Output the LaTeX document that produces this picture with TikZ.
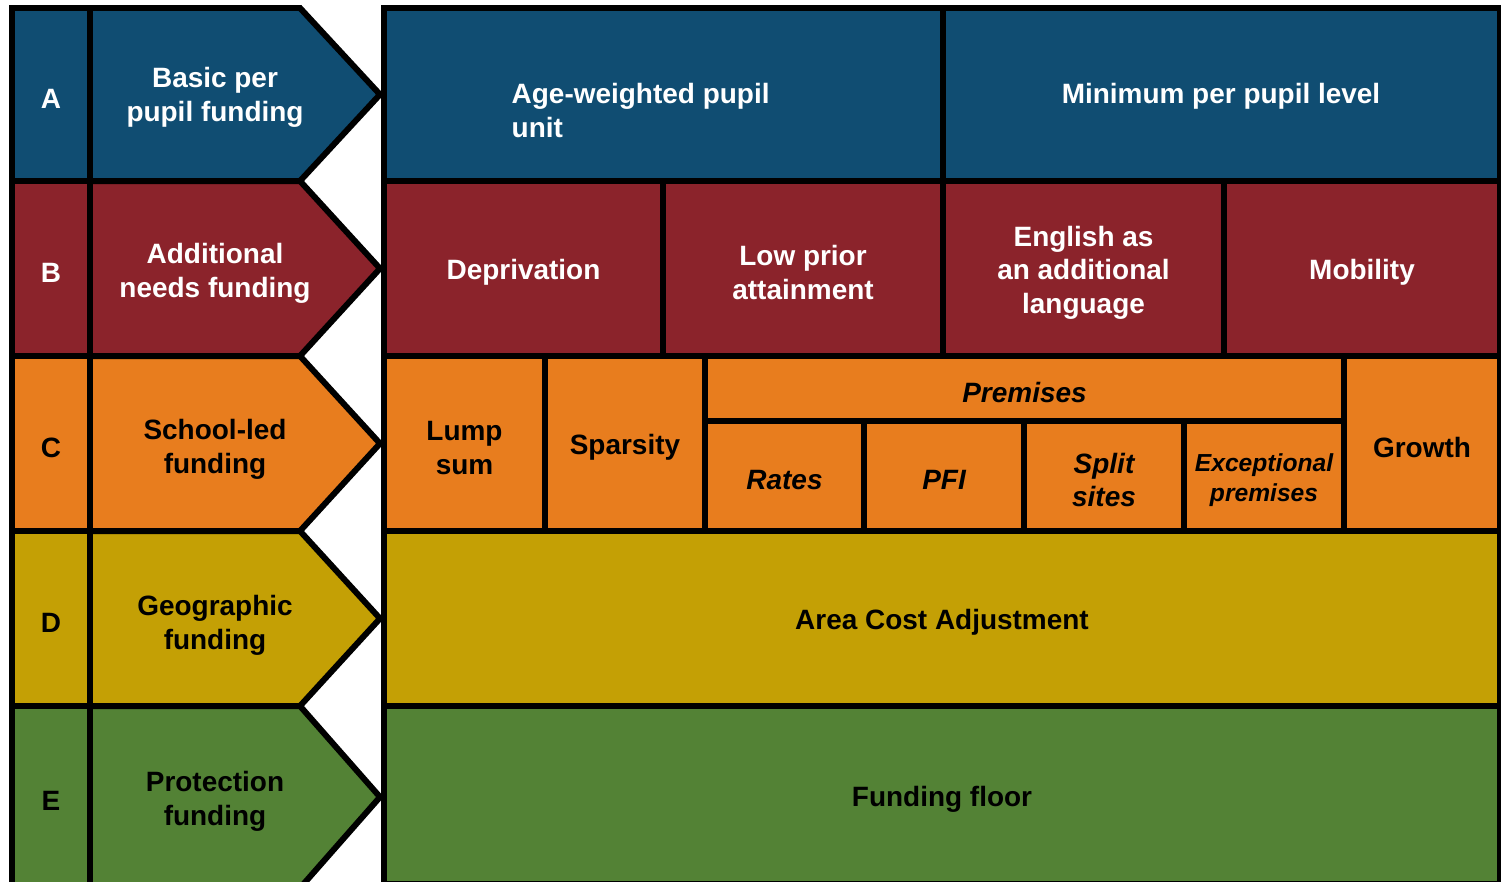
\documentclass[tikz,border=0pt]{standalone}
\usepackage{xcolor}
\usepackage{fontspec}
\setmainfont{Liberation Sans}

\definecolor{fundblue}{RGB}{16,77,114}
\definecolor{fundred}{RGB}{139,35,43}
\definecolor{fundorange}{RGB}{232,125,30}
\definecolor{fundyellow}{RGB}{196,160,5}
\definecolor{fundgreen}{RGB}{83,130,53}

\begin{document}
\begin{tikzpicture}[x=0.01cm,y=-0.01cm,line width=1.7pt,
    every node/.style={font=\fontsize{7.95}{9.6}\selectfont\bfseries,align=center,yshift=-1.2pt},
    ital/.style={font=\fontsize{7.95}{9.3}\selectfont\bfseries\itshape},
    itsmall/.style={font=\fontsize{7.0}{8.7}\selectfont\bfseries\itshape}]
        \clip (0,0) rectangle (1501,881);
        \fill[white] (0,0) rectangle (1501,881);

        % left column
        \draw[fill=fundblue] (12,8) rectangle (90,181) node[pos=.5,text=white] (letA) {A}; %A
        \draw[fill=fundblue] (90,8) -- (300,8) -- (380,94.5) -- (300,181) -- (90,181) -- cycle;
        \node[text=white] (basic) at (215,93) {Basic per\\pupil funding}; %basic

        \draw[fill=fundred] (12,181) rectangle (90,356) node[pos=.5,text=white] (letB) {B}; %B
        \draw[fill=fundred] (90,181) -- (300,181) -- (380,268.5) -- (300,356) -- (90,356) -- cycle;
        \node[text=white] (addneeds) at (215,269) {Additional\\needs funding}; %additional

        \draw[fill=fundorange] (12,356) rectangle (90,531) node[pos=.5] (letC) {C}; %C
        \draw[fill=fundorange] (90,356) -- (300,356) -- (380,443.5) -- (300,531) -- (90,531) -- cycle;
        \node (schoolled) at (215,445) {School-led\\funding}; %school-led

        \draw[fill=fundyellow] (12,531) rectangle (90,706) node[pos=.5] (letD) {D}; %D
        \draw[fill=fundyellow] (90,531) -- (300,531) -- (380,618.5) -- (300,706) -- (90,706) -- cycle;
        \node (geo) at (215,621) {Geographic\\funding}; %geographic

        \draw[fill=fundgreen] (12,706) rectangle (90,888) node[pos=.5] (letE) {E}; %E
        \draw[fill=fundgreen] (90,706) -- (300,706) -- (380,797) -- (300,888) -- (90,888) -- cycle;
        \node (protect) at (215,797) {Protection\\funding}; %protection

        % row A
        \draw[fill=fundblue] (384,8) rectangle (943,181);
        \node[text=white,align=left,anchor=west] (awpu) at (497,106) {Age-weighted pupil\\unit}; %awpu
        \draw[fill=fundblue] (943,8) rectangle (1500,181);
        \node[text=white] (minpp) at (1221,92) {Minimum per pupil level}; %mppl

        % row B
        \draw[fill=fundred] (384,181) rectangle (663,356) node[pos=.5,text=white] (depriv) {Deprivation}; %deprivation
        \draw[fill=fundred] (663,181) rectangle (943,356) node[pos=.5,text=white] (lpa) {Low prior\\attainment}; %lpa
        \draw[fill=fundred] (943,181) rectangle (1224,356) node[pos=.5,text=white] (eal) {English as\\an additional\\language}; %eal
        \draw[fill=fundred] (1224,181) rectangle (1500,356) node[pos=.5,text=white] (mobil) {Mobility}; %mobility

        % row C
        \draw[fill=fundorange] (384,356) rectangle (545,531) node[pos=.5] (lump) {Lump\\sum}; %lump sum
        \draw[fill=fundorange] (545,356) rectangle (705,531) node[pos=.5] (sparse) {Sparsity}; %sparsity
        \draw[fill=fundorange] (705,356) rectangle (1344,421) node[pos=.5,ital] (premises) {Premises}; %premises
        \draw[fill=fundorange] (705,421) rectangle (864,531) node[pos=.5,ital] (rates) {Rates}; %rates
        \draw[fill=fundorange] (864,421) rectangle (1024,531) node[pos=.5,ital] (pfi) {PFI}; %pfi
        \draw[fill=fundorange] (1024,421) rectangle (1184,531) node[pos=.5,ital] (split) {Split\\sites}; %split sites
        \draw[fill=fundorange] (1184,421) rectangle (1344,531) node[pos=.5,itsmall] (except) {Exceptional\\premises}; %exceptional
        \draw[fill=fundorange] (1344,356) rectangle (1500,531) node[pos=.5] (growth) {Growth}; %growth

        % rows D and E
        \draw[fill=fundyellow] (384,531) rectangle (1500,706) node[pos=.5] (aca) {Area Cost Adjustment}; %aca
        \draw[fill=fundgreen] (384,706) rectangle (1500,884) node[pos=.5] (floor) {Funding floor}; %floor
    \end{tikzpicture}
\end{document}
